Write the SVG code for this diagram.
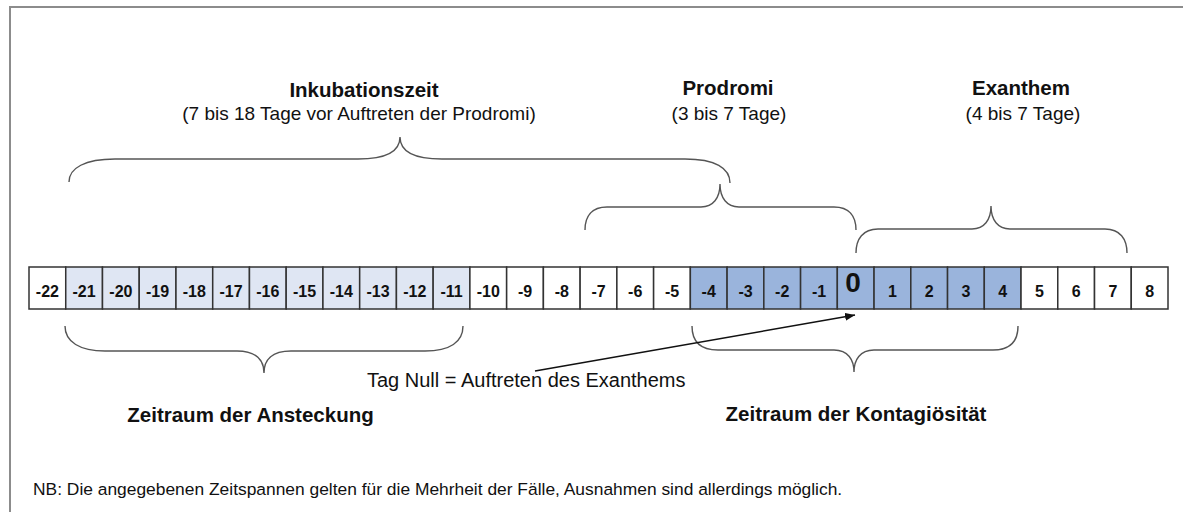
<svg xmlns="http://www.w3.org/2000/svg" width="1183" height="512" viewBox="0 0 1183 512">
<style>
.frame{stroke:#8c8c8c;stroke-width:2;fill:none}
.c{stroke:#333;stroke-width:1.5}
.w{fill:#ffffff}
.l{fill:#dfe6f3}
.d{fill:#9ab4dc}
.n{font-family:"Liberation Sans",Arial,sans-serif;font-weight:bold;font-size:16px;fill:#111;text-anchor:middle}
.z{font-family:"Liberation Sans",Arial,sans-serif;font-weight:bold;font-size:28px;fill:#111;text-anchor:middle}
.brace{fill:none;stroke:#555;stroke-width:1.4}
.t{font-family:"Liberation Sans",Arial,sans-serif;font-weight:bold;font-size:20.5px;fill:#111;text-anchor:middle}
.s{font-family:"Liberation Sans",Arial,sans-serif;font-size:19px;fill:#111;text-anchor:middle}
.lab{font-family:"Liberation Sans",Arial,sans-serif;font-size:20px;fill:#111}
.nb{font-family:"Liberation Sans",Arial,sans-serif;font-size:17.4px;fill:#111}
.arr{stroke:#111;stroke-width:1.5;fill:none}
</style>
<defs>
<marker id="ah" viewBox="0 0 10 8" refX="10" refY="4" markerWidth="10" markerHeight="8" markerUnits="userSpaceOnUse" orient="auto">
<path d="M0,0 L10,4 L0,8 Z" fill="#111"/>
</marker>
</defs>
<rect width="1183" height="512" fill="#ffffff"/>
<path class="frame" d="M10,512 L10,7 L1183,7"/>

<g id="cells">
<g id="cell-m22"><rect class="c w" x="29.00" y="267" width="36.74" height="42"/><text class="n" x="47.4" y="297">-22</text></g>
<g id="cell-m21"><rect class="c l" x="65.74" y="267" width="36.74" height="42"/><text class="n" x="84.1" y="297">-21</text></g>
<g id="cell-m20"><rect class="c l" x="102.48" y="267" width="36.74" height="42"/><text class="n" x="120.9" y="297">-20</text></g>
<g id="cell-m19"><rect class="c l" x="139.23" y="267" width="36.74" height="42"/><text class="n" x="157.6" y="297">-19</text></g>
<g id="cell-m18"><rect class="c l" x="175.97" y="267" width="36.74" height="42"/><text class="n" x="194.3" y="297">-18</text></g>
<g id="cell-m17"><rect class="c l" x="212.71" y="267" width="36.74" height="42"/><text class="n" x="231.1" y="297">-17</text></g>
<g id="cell-m16"><rect class="c l" x="249.45" y="267" width="36.74" height="42"/><text class="n" x="267.8" y="297">-16</text></g>
<g id="cell-m15"><rect class="c l" x="286.19" y="267" width="36.74" height="42"/><text class="n" x="304.6" y="297">-15</text></g>
<g id="cell-m14"><rect class="c l" x="322.94" y="267" width="36.74" height="42"/><text class="n" x="341.3" y="297">-14</text></g>
<g id="cell-m13"><rect class="c l" x="359.68" y="267" width="36.74" height="42"/><text class="n" x="378.1" y="297">-13</text></g>
<g id="cell-m12"><rect class="c l" x="396.42" y="267" width="36.74" height="42"/><text class="n" x="414.8" y="297">-12</text></g>
<g id="cell-m11"><rect class="c l" x="433.16" y="267" width="36.74" height="42"/><text class="n" x="451.5" y="297">-11</text></g>
<g id="cell-m10"><rect class="c w" x="469.90" y="267" width="36.74" height="42"/><text class="n" x="488.3" y="297">-10</text></g>
<g id="cell-m9"><rect class="c w" x="506.65" y="267" width="36.74" height="42"/><text class="n" x="525.0" y="297">-9</text></g>
<g id="cell-m8"><rect class="c w" x="543.39" y="267" width="36.74" height="42"/><text class="n" x="561.8" y="297">-8</text></g>
<g id="cell-m7"><rect class="c w" x="580.13" y="267" width="36.74" height="42"/><text class="n" x="598.5" y="297">-7</text></g>
<g id="cell-m6"><rect class="c w" x="616.87" y="267" width="36.74" height="42"/><text class="n" x="635.2" y="297">-6</text></g>
<g id="cell-m5"><rect class="c w" x="653.61" y="267" width="36.74" height="42"/><text class="n" x="672.0" y="297">-5</text></g>
<g id="cell-m4"><rect class="c d" x="690.35" y="267" width="36.74" height="42"/><text class="n" x="708.7" y="297">-4</text></g>
<g id="cell-m3"><rect class="c d" x="727.10" y="267" width="36.74" height="42"/><text class="n" x="745.5" y="297">-3</text></g>
<g id="cell-m2"><rect class="c d" x="763.84" y="267" width="36.74" height="42"/><text class="n" x="782.2" y="297">-2</text></g>
<g id="cell-m1"><rect class="c d" x="800.58" y="267" width="36.74" height="42"/><text class="n" x="819.0" y="297">-1</text></g>
<g id="cell-0"><rect class="c d" x="837.32" y="267" width="36.74" height="42"/><text class="z" x="853.0" y="292">0</text></g>
<g id="cell-1"><rect class="c d" x="874.06" y="267" width="36.74" height="42"/><text class="n" x="892.4" y="297">1</text></g>
<g id="cell-2"><rect class="c d" x="910.81" y="267" width="36.74" height="42"/><text class="n" x="929.2" y="297">2</text></g>
<g id="cell-3"><rect class="c d" x="947.55" y="267" width="36.74" height="42"/><text class="n" x="965.9" y="297">3</text></g>
<g id="cell-4"><rect class="c d" x="984.29" y="267" width="36.74" height="42"/><text class="n" x="1002.7" y="297">4</text></g>
<g id="cell-5"><rect class="c w" x="1021.03" y="267" width="36.74" height="42"/><text class="n" x="1039.4" y="297">5</text></g>
<g id="cell-6"><rect class="c w" x="1057.77" y="267" width="36.74" height="42"/><text class="n" x="1076.1" y="297">6</text></g>
<g id="cell-7"><rect class="c w" x="1094.52" y="267" width="36.74" height="42"/><text class="n" x="1112.9" y="297">7</text></g>
<g id="cell-8"><rect class="c w" x="1131.26" y="267" width="36.74" height="42"/><text class="n" x="1149.6" y="297">8</text></g>
</g>

<g id="inkubation">
<path class="brace" d="M69,182 C69,168 85,159 115,159 L358,159 C386,159 400,152 400,137 C400,152 414,159 442,159 L685,159 C715,159 730,168 730,183"/>
<text class="t" x="364" y="97">Inkubationszeit</text>
<text class="s" x="359" y="120">(7 bis 18 Tage vor Auftreten der Prodromi)</text>
</g>

<g id="prodromi">
<path class="brace" d="M585,230 C585,216 592,207 607,207 L701,207 C713,207 720,198 720,184 C720,198 727,207 739,207 L834,207 C849,207 856,216 856,230"/>
<text class="t" x="728" y="95">Prodromi</text>
<text class="s" x="729" y="120">(3 bis 7 Tage)</text>
</g>

<g id="exanthem">
<path class="brace" d="M856,253 C856,239 863,229 878,229 L972,229 C984,229 991,220 991,206 C991,220 998,229 1010,229 L1105,229 C1120,229 1127,239 1127,253"/>
<text class="t" x="1021" y="95">Exanthem</text>
<text class="s" x="1023" y="120">(4 bis 7 Tage)</text>
</g>

<g id="ansteckung">
<path class="brace" d="M65,326 C65,342 80,351 105,351 L237,351 C256,351 264,360 264,373 C264,360 272,351 291,351 L425,351 C450,351 463,342 463,326"/>
<text class="t" x="250.5" y="422">Zeitraum der Ansteckung</text>
</g>

<g id="kontagiositaet">
<path class="brace" d="M692,326 C692,341 700,350 718,350 L834,350 C848,350 854,360 854,372 C854,360 860,350 874,350 L993,350 C1010,350 1018,341 1018,326"/>
<text class="t" x="856" y="421">Zeitraum der Kontagiösität</text>
</g>

<g id="tag-null">
<text class="lab" x="367" y="387">Tag Null = Auftreten des Exanthems</text>
</g>

<g id="connectors">
<path class="arr" d="M535,371 L855,315" marker-end="url(#ah)"/>
</g>

<g id="note">
<text class="nb" x="33" y="495">NB: Die angegebenen Zeitspannen gelten für die Mehrheit der Fälle, Ausnahmen sind allerdings möglich.</text>
</g>
</svg>
